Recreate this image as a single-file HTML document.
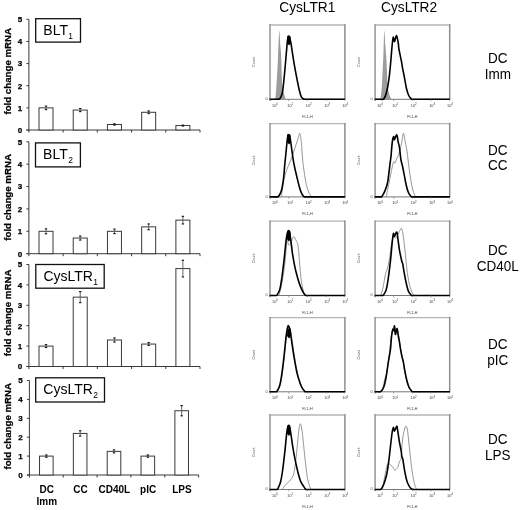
<!DOCTYPE html>
<html><head><meta charset="utf-8"><title>Figure</title>
<style>
html,body{margin:0;padding:0;background:#fff;}
body{width:520px;height:510px;overflow:hidden;}
svg{display:block;font-family:"Liberation Sans", sans-serif;will-change:transform;}
</style></head>
<body>
<svg width="520" height="510" viewBox="0 0 520 510" font-family='"Liberation Sans", sans-serif' fill="#000">
<rect width="520" height="510" fill="#fff"/>
<line x1="28.9" y1="19.3" x2="28.9" y2="132.5" stroke="#3a3a3a" stroke-width="1"/>
<line x1="26.4" y1="130.00" x2="28.9" y2="130.00" stroke="#3a3a3a" stroke-width="1"/>
<text x="22.099999999999998" y="132.85" font-size="8" font-weight="bold" stroke="#000" stroke-width="0.25" text-anchor="end">0</text>
<line x1="26.4" y1="107.86" x2="28.9" y2="107.86" stroke="#3a3a3a" stroke-width="1"/>
<text x="22.099999999999998" y="110.71" font-size="8" font-weight="bold" stroke="#000" stroke-width="0.25" text-anchor="end">1</text>
<line x1="26.4" y1="85.72" x2="28.9" y2="85.72" stroke="#3a3a3a" stroke-width="1"/>
<text x="22.099999999999998" y="88.57" font-size="8" font-weight="bold" stroke="#000" stroke-width="0.25" text-anchor="end">2</text>
<line x1="26.4" y1="63.58" x2="28.9" y2="63.58" stroke="#3a3a3a" stroke-width="1"/>
<text x="22.099999999999998" y="66.43" font-size="8" font-weight="bold" stroke="#000" stroke-width="0.25" text-anchor="end">3</text>
<line x1="26.4" y1="41.44" x2="28.9" y2="41.44" stroke="#3a3a3a" stroke-width="1"/>
<text x="22.099999999999998" y="44.29" font-size="8" font-weight="bold" stroke="#000" stroke-width="0.25" text-anchor="end">4</text>
<line x1="26.4" y1="19.30" x2="28.9" y2="19.30" stroke="#3a3a3a" stroke-width="1"/>
<text x="22.099999999999998" y="22.15" font-size="8" font-weight="bold" stroke="#000" stroke-width="0.25" text-anchor="end">5</text>
<line x1="26.4" y1="130.0" x2="200.0" y2="130.0" stroke="#3a3a3a" stroke-width="1"/>
<line x1="63.12" y1="130.0" x2="63.12" y2="132.5" stroke="#3a3a3a" stroke-width="1"/>
<line x1="97.34" y1="130.0" x2="97.34" y2="132.5" stroke="#3a3a3a" stroke-width="1"/>
<line x1="131.56" y1="130.0" x2="131.56" y2="132.5" stroke="#3a3a3a" stroke-width="1"/>
<line x1="165.78" y1="130.0" x2="165.78" y2="132.5" stroke="#3a3a3a" stroke-width="1"/>
<line x1="200.00" y1="130.0" x2="200.00" y2="132.5" stroke="#3a3a3a" stroke-width="1"/>
<rect x="39.01" y="107.86" width="14.0" height="22.14" fill="#fff" stroke="#3a3a3a" stroke-width="1"/>
<line x1="46.01" y1="106.09" x2="46.01" y2="109.63" stroke="#555" stroke-width="0.9"/>
<line x1="44.81" y1="106.09" x2="47.21" y2="106.09" stroke="#111" stroke-width="1.1"/>
<line x1="44.81" y1="109.63" x2="47.21" y2="109.63" stroke="#111" stroke-width="1.1"/>
<rect x="73.23" y="110.07" width="14.0" height="19.93" fill="#fff" stroke="#3a3a3a" stroke-width="1"/>
<line x1="80.23" y1="108.52" x2="80.23" y2="111.62" stroke="#555" stroke-width="0.9"/>
<line x1="79.03" y1="108.52" x2="81.43" y2="108.52" stroke="#111" stroke-width="1.1"/>
<line x1="79.03" y1="111.62" x2="81.43" y2="111.62" stroke="#111" stroke-width="1.1"/>
<rect x="107.45" y="124.47" width="14.0" height="5.53" fill="#fff" stroke="#3a3a3a" stroke-width="1"/>
<line x1="114.45" y1="123.80" x2="114.45" y2="125.13" stroke="#555" stroke-width="0.9"/>
<line x1="113.25" y1="123.80" x2="115.65" y2="123.80" stroke="#111" stroke-width="1.1"/>
<line x1="113.25" y1="125.13" x2="115.65" y2="125.13" stroke="#111" stroke-width="1.1"/>
<rect x="141.67" y="112.29" width="14.0" height="17.71" fill="#fff" stroke="#3a3a3a" stroke-width="1"/>
<line x1="148.67" y1="110.96" x2="148.67" y2="113.62" stroke="#555" stroke-width="0.9"/>
<line x1="147.47" y1="110.96" x2="149.87" y2="110.96" stroke="#111" stroke-width="1.1"/>
<line x1="147.47" y1="113.62" x2="149.87" y2="113.62" stroke="#111" stroke-width="1.1"/>
<rect x="175.89" y="125.57" width="14.0" height="4.43" fill="#fff" stroke="#3a3a3a" stroke-width="1"/>
<line x1="182.89" y1="125.13" x2="182.89" y2="126.01" stroke="#555" stroke-width="0.9"/>
<line x1="181.69" y1="125.13" x2="184.09" y2="125.13" stroke="#111" stroke-width="1.1"/>
<line x1="181.69" y1="126.01" x2="184.09" y2="126.01" stroke="#111" stroke-width="1.1"/>
<rect x="35.7" y="18.7" width="44.80" height="23.40" fill="#fff" stroke="#111" stroke-width="1.3"/>
<text x="43.30" y="35.00" font-size="14">BLT<tspan font-size="8.5" dy="4.1" dx="0.4">1</tspan></text>
<text transform="translate(10.9,71.25) rotate(-90)" font-size="9.7" font-weight="bold" stroke="#000" stroke-width="0.25" text-anchor="middle">fold change mRNA</text>
<line x1="28.9" y1="141.8" x2="28.9" y2="256.2" stroke="#3a3a3a" stroke-width="1"/>
<line x1="26.4" y1="253.70" x2="28.9" y2="253.70" stroke="#3a3a3a" stroke-width="1"/>
<text x="22.099999999999998" y="256.55" font-size="8" font-weight="bold" stroke="#000" stroke-width="0.25" text-anchor="end">0</text>
<line x1="26.4" y1="231.32" x2="28.9" y2="231.32" stroke="#3a3a3a" stroke-width="1"/>
<text x="22.099999999999998" y="234.17" font-size="8" font-weight="bold" stroke="#000" stroke-width="0.25" text-anchor="end">1</text>
<line x1="26.4" y1="208.94" x2="28.9" y2="208.94" stroke="#3a3a3a" stroke-width="1"/>
<text x="22.099999999999998" y="211.79" font-size="8" font-weight="bold" stroke="#000" stroke-width="0.25" text-anchor="end">2</text>
<line x1="26.4" y1="186.56" x2="28.9" y2="186.56" stroke="#3a3a3a" stroke-width="1"/>
<text x="22.099999999999998" y="189.41" font-size="8" font-weight="bold" stroke="#000" stroke-width="0.25" text-anchor="end">3</text>
<line x1="26.4" y1="164.18" x2="28.9" y2="164.18" stroke="#3a3a3a" stroke-width="1"/>
<text x="22.099999999999998" y="167.03" font-size="8" font-weight="bold" stroke="#000" stroke-width="0.25" text-anchor="end">4</text>
<line x1="26.4" y1="141.80" x2="28.9" y2="141.80" stroke="#3a3a3a" stroke-width="1"/>
<text x="22.099999999999998" y="144.65" font-size="8" font-weight="bold" stroke="#000" stroke-width="0.25" text-anchor="end">5</text>
<line x1="26.4" y1="253.7" x2="200.0" y2="253.7" stroke="#3a3a3a" stroke-width="1"/>
<line x1="63.12" y1="253.7" x2="63.12" y2="256.2" stroke="#3a3a3a" stroke-width="1"/>
<line x1="97.34" y1="253.7" x2="97.34" y2="256.2" stroke="#3a3a3a" stroke-width="1"/>
<line x1="131.56" y1="253.7" x2="131.56" y2="256.2" stroke="#3a3a3a" stroke-width="1"/>
<line x1="165.78" y1="253.7" x2="165.78" y2="256.2" stroke="#3a3a3a" stroke-width="1"/>
<line x1="200.00" y1="253.7" x2="200.00" y2="256.2" stroke="#3a3a3a" stroke-width="1"/>
<rect x="39.01" y="231.32" width="14.0" height="22.38" fill="#fff" stroke="#3a3a3a" stroke-width="1"/>
<line x1="46.01" y1="228.86" x2="46.01" y2="233.78" stroke="#555" stroke-width="0.9"/>
<line x1="44.81" y1="228.86" x2="47.21" y2="228.86" stroke="#111" stroke-width="1.1"/>
<line x1="44.81" y1="233.78" x2="47.21" y2="233.78" stroke="#111" stroke-width="1.1"/>
<rect x="73.23" y="238.03" width="14.0" height="15.67" fill="#fff" stroke="#3a3a3a" stroke-width="1"/>
<line x1="80.23" y1="236.02" x2="80.23" y2="240.05" stroke="#555" stroke-width="0.9"/>
<line x1="79.03" y1="236.02" x2="81.43" y2="236.02" stroke="#111" stroke-width="1.1"/>
<line x1="79.03" y1="240.05" x2="81.43" y2="240.05" stroke="#111" stroke-width="1.1"/>
<rect x="107.45" y="231.32" width="14.0" height="22.38" fill="#fff" stroke="#3a3a3a" stroke-width="1"/>
<line x1="114.45" y1="229.08" x2="114.45" y2="233.56" stroke="#555" stroke-width="0.9"/>
<line x1="113.25" y1="229.08" x2="115.65" y2="229.08" stroke="#111" stroke-width="1.1"/>
<line x1="113.25" y1="233.56" x2="115.65" y2="233.56" stroke="#111" stroke-width="1.1"/>
<rect x="141.67" y="226.84" width="14.0" height="26.86" fill="#fff" stroke="#3a3a3a" stroke-width="1"/>
<line x1="148.67" y1="223.93" x2="148.67" y2="229.75" stroke="#555" stroke-width="0.9"/>
<line x1="147.47" y1="223.93" x2="149.87" y2="223.93" stroke="#111" stroke-width="1.1"/>
<line x1="147.47" y1="229.75" x2="149.87" y2="229.75" stroke="#111" stroke-width="1.1"/>
<rect x="175.89" y="220.13" width="14.0" height="33.57" fill="#fff" stroke="#3a3a3a" stroke-width="1"/>
<line x1="182.89" y1="216.33" x2="182.89" y2="223.93" stroke="#555" stroke-width="0.9"/>
<line x1="181.69" y1="216.33" x2="184.09" y2="216.33" stroke="#111" stroke-width="1.1"/>
<line x1="181.69" y1="223.93" x2="184.09" y2="223.93" stroke="#111" stroke-width="1.1"/>
<rect x="35.5" y="142.9" width="44.90" height="24.00" fill="#fff" stroke="#111" stroke-width="1.3"/>
<text x="43.10" y="159.20" font-size="14">BLT<tspan font-size="8.5" dy="4.1" dx="0.4">2</tspan></text>
<text transform="translate(10.9,197.40) rotate(-90)" font-size="9.7" font-weight="bold" stroke="#000" stroke-width="0.25" text-anchor="middle">fold change mRNA</text>
<line x1="28.9" y1="264.5" x2="28.9" y2="369.0" stroke="#3a3a3a" stroke-width="1"/>
<line x1="26.4" y1="366.50" x2="28.9" y2="366.50" stroke="#3a3a3a" stroke-width="1"/>
<text x="22.099999999999998" y="369.35" font-size="8" font-weight="bold" stroke="#000" stroke-width="0.25" text-anchor="end">0</text>
<line x1="26.4" y1="346.10" x2="28.9" y2="346.10" stroke="#3a3a3a" stroke-width="1"/>
<text x="22.099999999999998" y="348.95" font-size="8" font-weight="bold" stroke="#000" stroke-width="0.25" text-anchor="end">1</text>
<line x1="26.4" y1="325.70" x2="28.9" y2="325.70" stroke="#3a3a3a" stroke-width="1"/>
<text x="22.099999999999998" y="328.55" font-size="8" font-weight="bold" stroke="#000" stroke-width="0.25" text-anchor="end">2</text>
<line x1="26.4" y1="305.30" x2="28.9" y2="305.30" stroke="#3a3a3a" stroke-width="1"/>
<text x="22.099999999999998" y="308.15" font-size="8" font-weight="bold" stroke="#000" stroke-width="0.25" text-anchor="end">3</text>
<line x1="26.4" y1="284.90" x2="28.9" y2="284.90" stroke="#3a3a3a" stroke-width="1"/>
<text x="22.099999999999998" y="287.75" font-size="8" font-weight="bold" stroke="#000" stroke-width="0.25" text-anchor="end">4</text>
<line x1="26.4" y1="264.50" x2="28.9" y2="264.50" stroke="#3a3a3a" stroke-width="1"/>
<text x="22.099999999999998" y="267.35" font-size="8" font-weight="bold" stroke="#000" stroke-width="0.25" text-anchor="end">5</text>
<line x1="26.4" y1="366.5" x2="200.0" y2="366.5" stroke="#3a3a3a" stroke-width="1"/>
<line x1="63.12" y1="366.5" x2="63.12" y2="369.0" stroke="#3a3a3a" stroke-width="1"/>
<line x1="97.34" y1="366.5" x2="97.34" y2="369.0" stroke="#3a3a3a" stroke-width="1"/>
<line x1="131.56" y1="366.5" x2="131.56" y2="369.0" stroke="#3a3a3a" stroke-width="1"/>
<line x1="165.78" y1="366.5" x2="165.78" y2="369.0" stroke="#3a3a3a" stroke-width="1"/>
<line x1="200.00" y1="366.5" x2="200.00" y2="369.0" stroke="#3a3a3a" stroke-width="1"/>
<rect x="39.01" y="346.10" width="14.0" height="20.40" fill="#fff" stroke="#3a3a3a" stroke-width="1"/>
<line x1="46.01" y1="344.67" x2="46.01" y2="347.53" stroke="#555" stroke-width="0.9"/>
<line x1="44.81" y1="344.67" x2="47.21" y2="344.67" stroke="#111" stroke-width="1.1"/>
<line x1="44.81" y1="347.53" x2="47.21" y2="347.53" stroke="#111" stroke-width="1.1"/>
<rect x="73.23" y="297.14" width="14.0" height="69.36" fill="#fff" stroke="#3a3a3a" stroke-width="1"/>
<line x1="80.23" y1="291.63" x2="80.23" y2="302.65" stroke="#555" stroke-width="0.9"/>
<line x1="79.03" y1="291.63" x2="81.43" y2="291.63" stroke="#111" stroke-width="1.1"/>
<line x1="79.03" y1="302.65" x2="81.43" y2="302.65" stroke="#111" stroke-width="1.1"/>
<rect x="107.45" y="339.98" width="14.0" height="26.52" fill="#fff" stroke="#3a3a3a" stroke-width="1"/>
<line x1="114.45" y1="337.94" x2="114.45" y2="342.02" stroke="#555" stroke-width="0.9"/>
<line x1="113.25" y1="337.94" x2="115.65" y2="337.94" stroke="#111" stroke-width="1.1"/>
<line x1="113.25" y1="342.02" x2="115.65" y2="342.02" stroke="#111" stroke-width="1.1"/>
<rect x="141.67" y="344.06" width="14.0" height="22.44" fill="#fff" stroke="#3a3a3a" stroke-width="1"/>
<line x1="148.67" y1="342.63" x2="148.67" y2="345.49" stroke="#555" stroke-width="0.9"/>
<line x1="147.47" y1="342.63" x2="149.87" y2="342.63" stroke="#111" stroke-width="1.1"/>
<line x1="147.47" y1="345.49" x2="149.87" y2="345.49" stroke="#111" stroke-width="1.1"/>
<rect x="175.89" y="268.58" width="14.0" height="97.92" fill="#fff" stroke="#3a3a3a" stroke-width="1"/>
<line x1="182.89" y1="260.22" x2="182.89" y2="276.94" stroke="#555" stroke-width="0.9"/>
<line x1="181.69" y1="260.22" x2="184.09" y2="260.22" stroke="#111" stroke-width="1.1"/>
<line x1="181.69" y1="276.94" x2="184.09" y2="276.94" stroke="#111" stroke-width="1.1"/>
<rect x="35.8" y="264.5" width="68.40" height="23.70" fill="#fff" stroke="#111" stroke-width="1.3"/>
<text x="43.40" y="280.80" font-size="14">CysLTR<tspan font-size="8.5" dy="4.1" dx="0.4">1</tspan></text>
<text transform="translate(10.9,312.90) rotate(-90)" font-size="9.7" font-weight="bold" stroke="#000" stroke-width="0.25" text-anchor="middle">fold change mRNA</text>
<line x1="29.4" y1="380.5" x2="29.4" y2="477.5" stroke="#3a3a3a" stroke-width="1"/>
<line x1="26.9" y1="475.00" x2="29.4" y2="475.00" stroke="#3a3a3a" stroke-width="1"/>
<text x="22.599999999999998" y="477.85" font-size="8" font-weight="bold" stroke="#000" stroke-width="0.25" text-anchor="end">0</text>
<line x1="26.9" y1="456.10" x2="29.4" y2="456.10" stroke="#3a3a3a" stroke-width="1"/>
<text x="22.599999999999998" y="458.95" font-size="8" font-weight="bold" stroke="#000" stroke-width="0.25" text-anchor="end">1</text>
<line x1="26.9" y1="437.20" x2="29.4" y2="437.20" stroke="#3a3a3a" stroke-width="1"/>
<text x="22.599999999999998" y="440.05" font-size="8" font-weight="bold" stroke="#000" stroke-width="0.25" text-anchor="end">2</text>
<line x1="26.9" y1="418.30" x2="29.4" y2="418.30" stroke="#3a3a3a" stroke-width="1"/>
<text x="22.599999999999998" y="421.15" font-size="8" font-weight="bold" stroke="#000" stroke-width="0.25" text-anchor="end">3</text>
<line x1="26.9" y1="399.40" x2="29.4" y2="399.40" stroke="#3a3a3a" stroke-width="1"/>
<text x="22.599999999999998" y="402.25" font-size="8" font-weight="bold" stroke="#000" stroke-width="0.25" text-anchor="end">4</text>
<line x1="26.9" y1="380.50" x2="29.4" y2="380.50" stroke="#3a3a3a" stroke-width="1"/>
<text x="22.599999999999998" y="383.35" font-size="8" font-weight="bold" stroke="#000" stroke-width="0.25" text-anchor="end">5</text>
<line x1="26.9" y1="475.0" x2="198.6" y2="475.0" stroke="#3a3a3a" stroke-width="1"/>
<line x1="63.24" y1="475.0" x2="63.24" y2="477.5" stroke="#3a3a3a" stroke-width="1"/>
<line x1="97.08" y1="475.0" x2="97.08" y2="477.5" stroke="#3a3a3a" stroke-width="1"/>
<line x1="130.92" y1="475.0" x2="130.92" y2="477.5" stroke="#3a3a3a" stroke-width="1"/>
<line x1="164.76" y1="475.0" x2="164.76" y2="477.5" stroke="#3a3a3a" stroke-width="1"/>
<line x1="198.60" y1="475.0" x2="198.60" y2="477.5" stroke="#3a3a3a" stroke-width="1"/>
<rect x="39.52" y="456.10" width="13.6" height="18.90" fill="#fff" stroke="#3a3a3a" stroke-width="1"/>
<line x1="46.32" y1="454.97" x2="46.32" y2="457.23" stroke="#555" stroke-width="0.9"/>
<line x1="45.12" y1="454.97" x2="47.52" y2="454.97" stroke="#111" stroke-width="1.1"/>
<line x1="45.12" y1="457.23" x2="47.52" y2="457.23" stroke="#111" stroke-width="1.1"/>
<rect x="73.36" y="433.42" width="13.6" height="41.58" fill="#fff" stroke="#3a3a3a" stroke-width="1"/>
<line x1="80.16" y1="430.77" x2="80.16" y2="436.07" stroke="#555" stroke-width="0.9"/>
<line x1="78.96" y1="430.77" x2="81.36" y2="430.77" stroke="#111" stroke-width="1.1"/>
<line x1="78.96" y1="436.07" x2="81.36" y2="436.07" stroke="#111" stroke-width="1.1"/>
<rect x="107.20" y="451.38" width="13.6" height="23.62" fill="#fff" stroke="#3a3a3a" stroke-width="1"/>
<line x1="114.00" y1="449.86" x2="114.00" y2="452.89" stroke="#555" stroke-width="0.9"/>
<line x1="112.80" y1="449.86" x2="115.20" y2="449.86" stroke="#111" stroke-width="1.1"/>
<line x1="112.80" y1="452.89" x2="115.20" y2="452.89" stroke="#111" stroke-width="1.1"/>
<rect x="141.04" y="456.10" width="13.6" height="18.90" fill="#fff" stroke="#3a3a3a" stroke-width="1"/>
<line x1="147.84" y1="454.97" x2="147.84" y2="457.23" stroke="#555" stroke-width="0.9"/>
<line x1="146.64" y1="454.97" x2="149.04" y2="454.97" stroke="#111" stroke-width="1.1"/>
<line x1="146.64" y1="457.23" x2="149.04" y2="457.23" stroke="#111" stroke-width="1.1"/>
<rect x="174.88" y="410.74" width="13.6" height="64.26" fill="#fff" stroke="#3a3a3a" stroke-width="1"/>
<line x1="181.68" y1="405.64" x2="181.68" y2="415.84" stroke="#555" stroke-width="0.9"/>
<line x1="180.48" y1="405.64" x2="182.88" y2="405.64" stroke="#111" stroke-width="1.1"/>
<line x1="180.48" y1="415.84" x2="182.88" y2="415.84" stroke="#111" stroke-width="1.1"/>
<rect x="35.7" y="377.8" width="68.80" height="24.20" fill="#fff" stroke="#111" stroke-width="1.3"/>
<text x="43.30" y="394.10" font-size="14">CysLTR<tspan font-size="8.5" dy="4.1" dx="0.4">2</tspan></text>
<text transform="translate(10.9,426.25) rotate(-90)" font-size="9.7" font-weight="bold" stroke="#000" stroke-width="0.25" text-anchor="middle">fold change mRNA</text>
<text x="46.75" y="492.6" font-size="10" font-weight="bold" text-anchor="middle">DC</text>
<text x="80.55" y="492.6" font-size="10" font-weight="bold" text-anchor="middle">CC</text>
<text x="114.4" y="492.6" font-size="10" font-weight="bold" text-anchor="middle">CD40L</text>
<text x="148.1" y="492.6" font-size="10" font-weight="bold" text-anchor="middle">pIC</text>
<text x="182.0" y="492.6" font-size="10" font-weight="bold" text-anchor="middle">LPS</text>
<text x="46.8" y="504.6" font-size="10" font-weight="bold" text-anchor="middle">Imm</text>
<line x1="270.0" y1="99.3" x2="344.9" y2="99.3" stroke="#777" stroke-width="1"/>
<path d="M275.00,99.30 C275.18,97.88 275.62,97.31 276.10,90.76 C276.58,84.21 277.38,69.96 277.90,60.00 C278.42,50.04 278.85,33.50 279.25,31.00 C279.65,28.50 279.98,40.83 280.30,45.00 C280.62,49.17 280.88,49.33 281.20,56.00 C281.52,62.67 281.70,78.65 282.20,85.00 C282.70,91.35 283.62,91.73 284.20,94.11 C284.78,96.50 285.45,98.44 285.70,99.30 Z" fill="#9c9c9c" stroke="none"/>
<line x1="269.3" y1="25.0" x2="345.59999999999997" y2="25.0" stroke="#b4b4b4" stroke-width="1.4"/>
<line x1="270.0" y1="24.3" x2="270.0" y2="100.8" stroke="#959595" stroke-width="1.5"/>
<line x1="344.9" y1="24.3" x2="344.9" y2="99.3" stroke="#8e8e8e" stroke-width="1.5"/>
<path d="M269.5,99.3 L276.00,99.30 C276.62,99.22 278.83,99.32 279.70,98.79 C280.57,98.27 280.70,97.49 281.20,96.15 C281.70,94.81 282.08,95.15 282.70,90.76 C283.32,86.37 284.15,77.78 284.90,69.80 C285.65,61.82 286.65,48.37 287.20,42.90 C287.75,37.43 287.92,38.12 288.20,37.00 C288.48,35.88 288.67,36.03 288.90,36.20 C289.13,36.37 289.27,36.88 289.60,38.00 C289.93,39.12 290.18,38.85 290.90,42.90 C291.62,46.95 292.90,56.33 293.90,62.30 C294.90,68.27 296.03,74.21 296.90,78.70 C297.77,83.19 298.37,86.23 299.10,89.23 C299.83,92.24 300.43,95.08 301.30,96.76 C302.17,98.44 303.80,98.88 304.30,99.30 L345.2,99.3" fill="none" stroke="#000" stroke-width="1.6" stroke-linejoin="round"/>
<polygon points="286.90,43.00 287.30,36.50 288.00,35.30 288.80,37.10 289.70,35.50 290.60,36.80 290.90,43.00 289.10,45.50" fill="#000"/>
<line x1="270.00" y1="99.3" x2="270.00" y2="101.1" stroke="#777" stroke-width="0.6"/>
<text x="275.00" y="106.60" font-size="3.8" fill="#3a3a3a" text-anchor="middle">10<tspan font-size="2.8" dy="-1.6">0</tspan></text>
<line x1="288.73" y1="99.3" x2="288.73" y2="101.1" stroke="#777" stroke-width="0.6"/>
<text x="290.23" y="106.60" font-size="3.8" fill="#3a3a3a" text-anchor="middle">10<tspan font-size="2.8" dy="-1.6">1</tspan></text>
<line x1="307.45" y1="99.3" x2="307.45" y2="101.1" stroke="#777" stroke-width="0.6"/>
<text x="308.75" y="106.60" font-size="3.8" fill="#3a3a3a" text-anchor="middle">10<tspan font-size="2.8" dy="-1.6">2</tspan></text>
<line x1="326.17" y1="99.3" x2="326.17" y2="101.1" stroke="#777" stroke-width="0.6"/>
<text x="327.17" y="106.60" font-size="3.8" fill="#3a3a3a" text-anchor="middle">10<tspan font-size="2.8" dy="-1.6">3</tspan></text>
<line x1="344.90" y1="99.3" x2="344.90" y2="101.1" stroke="#777" stroke-width="0.6"/>
<text x="345.20" y="106.60" font-size="3.8" fill="#3a3a3a" text-anchor="middle">10<tspan font-size="2.8" dy="-1.6">4</tspan></text>
<text x="307.45" y="117.60" font-size="3.7" fill="#3a3a3a" text-anchor="middle">FL1-H</text>
<text x="266.50" y="100.10" font-size="3.8" fill="#444" text-anchor="middle">0</text>
<text transform="translate(254.80,62.15) rotate(-90)" font-size="3.6" fill="#444" text-anchor="middle">Count</text>
<line x1="375.1" y1="99.3" x2="449.7" y2="99.3" stroke="#777" stroke-width="1"/>
<path d="M380.60,99.30 C380.82,96.92 381.43,92.38 381.90,85.00 C382.37,77.62 383.01,64.00 383.40,55.00 C383.79,46.00 383.93,32.67 384.25,31.00 C384.57,29.33 384.98,40.83 385.30,45.00 C385.62,49.17 385.80,49.33 386.20,56.00 C386.60,62.67 387.20,78.65 387.70,85.00 C388.20,91.35 388.58,91.73 389.20,94.11 C389.82,96.50 391.03,98.44 391.40,99.30 Z" fill="#9c9c9c" stroke="none"/>
<line x1="374.40000000000003" y1="25.0" x2="450.4" y2="25.0" stroke="#b4b4b4" stroke-width="1.4"/>
<line x1="375.1" y1="24.3" x2="375.1" y2="100.8" stroke="#959595" stroke-width="1.5"/>
<line x1="449.7" y1="24.3" x2="449.7" y2="99.3" stroke="#8e8e8e" stroke-width="1.5"/>
<path d="M374.6,99.3 L381.00,99.30 C381.50,99.22 383.02,100.21 384.00,98.79 C384.98,97.37 386.03,94.36 386.90,90.76 C387.77,87.16 388.57,81.94 389.20,77.20 C389.83,72.46 390.27,67.00 390.70,62.30 C391.13,57.60 391.52,52.22 391.80,49.00 C392.08,45.78 392.15,44.97 392.40,43.00 C392.65,41.03 392.93,37.43 393.30,37.20 C393.67,36.97 394.05,41.87 394.60,41.60 C395.15,41.33 395.98,35.28 396.60,35.60 C397.22,35.92 397.92,41.27 398.30,43.50 C398.68,45.73 398.55,46.87 398.90,49.00 C399.25,51.13 399.90,53.83 400.40,56.30 C400.90,58.77 401.53,61.80 401.90,63.80 C402.27,65.80 402.23,66.32 402.60,68.30 C402.97,70.28 403.48,72.47 404.10,75.70 C404.72,78.94 405.55,84.45 406.30,87.71 C407.05,90.97 407.72,93.30 408.60,95.23 C409.48,97.16 411.10,98.62 411.60,99.30 L450.0,99.3" fill="none" stroke="#000" stroke-width="1.6" stroke-linejoin="round"/>
<line x1="375.10" y1="99.3" x2="375.10" y2="101.1" stroke="#777" stroke-width="0.6"/>
<text x="380.10" y="106.60" font-size="3.8" fill="#3a3a3a" text-anchor="middle">10<tspan font-size="2.8" dy="-1.6">0</tspan></text>
<line x1="393.75" y1="99.3" x2="393.75" y2="101.1" stroke="#777" stroke-width="0.6"/>
<text x="395.25" y="106.60" font-size="3.8" fill="#3a3a3a" text-anchor="middle">10<tspan font-size="2.8" dy="-1.6">1</tspan></text>
<line x1="412.40" y1="99.3" x2="412.40" y2="101.1" stroke="#777" stroke-width="0.6"/>
<text x="413.70" y="106.60" font-size="3.8" fill="#3a3a3a" text-anchor="middle">10<tspan font-size="2.8" dy="-1.6">2</tspan></text>
<line x1="431.05" y1="99.3" x2="431.05" y2="101.1" stroke="#777" stroke-width="0.6"/>
<text x="432.05" y="106.60" font-size="3.8" fill="#3a3a3a" text-anchor="middle">10<tspan font-size="2.8" dy="-1.6">3</tspan></text>
<line x1="449.70" y1="99.3" x2="449.70" y2="101.1" stroke="#777" stroke-width="0.6"/>
<text x="450.00" y="106.60" font-size="3.8" fill="#3a3a3a" text-anchor="middle">10<tspan font-size="2.8" dy="-1.6">4</tspan></text>
<text x="412.40" y="117.60" font-size="3.7" fill="#3a3a3a" text-anchor="middle">FL1-H</text>
<text x="371.60" y="100.10" font-size="3.8" fill="#444" text-anchor="middle">0</text>
<text transform="translate(359.90,62.15) rotate(-90)" font-size="3.6" fill="#444" text-anchor="middle">Count</text>
<line x1="270.0" y1="196.9" x2="344.9" y2="196.9" stroke="#777" stroke-width="1"/>
<path d="M281.20,196.90 C281.43,195.49 282.12,191.32 282.60,188.42 C283.08,185.52 283.47,182.47 284.10,179.50 C284.73,176.53 285.28,173.82 286.40,170.60 C287.52,167.38 289.32,164.17 290.80,160.20 C292.28,156.23 294.05,150.52 295.30,146.80 C296.55,143.08 297.55,140.13 298.30,137.90 C299.05,135.67 299.30,132.67 299.80,133.40 C300.30,134.13 300.82,137.83 301.30,142.30 C301.78,146.77 302.22,155.23 302.70,160.20 C303.18,165.17 303.57,167.88 304.20,172.10 C304.83,176.32 305.63,181.93 306.50,185.49 C307.37,189.06 308.53,191.59 309.40,193.49 C310.27,195.39 311.32,196.33 311.70,196.90" fill="none" stroke="#8a8a8a" stroke-width="0.9"/>
<line x1="269.3" y1="123.6" x2="345.59999999999997" y2="123.6" stroke="#b4b4b4" stroke-width="1.4"/>
<line x1="270.0" y1="122.89999999999999" x2="270.0" y2="198.4" stroke="#959595" stroke-width="1.5"/>
<line x1="344.9" y1="122.89999999999999" x2="344.9" y2="196.9" stroke="#8e8e8e" stroke-width="1.5"/>
<path d="M269.5,196.9 L278.20,196.90 C278.70,195.97 280.33,194.24 281.20,191.34 C282.07,188.44 282.78,184.19 283.40,179.50 C284.02,174.81 284.40,168.40 284.90,163.20 C285.40,158.00 285.95,152.60 286.40,148.30 C286.85,144.00 287.23,139.63 287.60,137.40 C287.97,135.17 288.18,134.82 288.60,134.90 C289.02,134.98 289.60,135.67 290.10,137.90 C290.60,140.13 290.98,144.08 291.60,148.30 C292.22,152.52 292.93,158.48 293.80,163.20 C294.67,167.92 295.80,172.40 296.80,176.60 C297.80,180.80 298.93,185.49 299.80,188.42 C300.67,191.35 301.27,192.76 302.00,194.17 C302.73,195.58 303.83,196.44 304.20,196.90 L345.2,196.9" fill="none" stroke="#000" stroke-width="1.6" stroke-linejoin="round"/>
<polygon points="286.90,142.00 287.30,134.80 288.00,133.60 288.80,135.40 289.70,133.80 290.60,135.10 290.90,142.00 289.10,144.50" fill="#000"/>
<line x1="270.00" y1="196.9" x2="270.00" y2="198.70000000000002" stroke="#777" stroke-width="0.6"/>
<text x="275.00" y="204.20" font-size="3.8" fill="#3a3a3a" text-anchor="middle">10<tspan font-size="2.8" dy="-1.6">0</tspan></text>
<line x1="288.73" y1="196.9" x2="288.73" y2="198.70000000000002" stroke="#777" stroke-width="0.6"/>
<text x="290.23" y="204.20" font-size="3.8" fill="#3a3a3a" text-anchor="middle">10<tspan font-size="2.8" dy="-1.6">1</tspan></text>
<line x1="307.45" y1="196.9" x2="307.45" y2="198.70000000000002" stroke="#777" stroke-width="0.6"/>
<text x="308.75" y="204.20" font-size="3.8" fill="#3a3a3a" text-anchor="middle">10<tspan font-size="2.8" dy="-1.6">2</tspan></text>
<line x1="326.17" y1="196.9" x2="326.17" y2="198.70000000000002" stroke="#777" stroke-width="0.6"/>
<text x="327.17" y="204.20" font-size="3.8" fill="#3a3a3a" text-anchor="middle">10<tspan font-size="2.8" dy="-1.6">3</tspan></text>
<line x1="344.90" y1="196.9" x2="344.90" y2="198.70000000000002" stroke="#777" stroke-width="0.6"/>
<text x="345.20" y="204.20" font-size="3.8" fill="#3a3a3a" text-anchor="middle">10<tspan font-size="2.8" dy="-1.6">4</tspan></text>
<text x="307.45" y="215.20" font-size="3.7" fill="#3a3a3a" text-anchor="middle">FL1-H</text>
<text x="266.50" y="197.70" font-size="3.8" fill="#444" text-anchor="middle">0</text>
<text transform="translate(254.80,160.25) rotate(-90)" font-size="3.6" fill="#444" text-anchor="middle">Count</text>
<line x1="375.1" y1="196.9" x2="449.7" y2="196.9" stroke="#777" stroke-width="1"/>
<path d="M386.20,196.90 C386.68,194.50 388.12,187.38 389.10,182.50 C390.08,177.62 391.35,171.07 392.10,167.60 C392.85,164.13 393.10,162.43 393.60,161.70 C394.10,160.97 394.60,163.70 395.10,163.20 C395.60,162.70 395.98,160.18 396.60,158.70 C397.22,157.22 398.18,156.03 398.80,154.30 C399.42,152.57 399.85,150.05 400.30,148.30 C400.75,146.55 401.00,146.28 401.50,143.80 C402.00,141.32 402.75,134.13 403.30,133.40 C403.85,132.67 404.18,136.42 404.80,139.40 C405.42,142.38 406.27,146.35 407.00,151.30 C407.73,156.25 408.45,163.65 409.20,169.10 C409.95,174.55 410.75,180.07 411.50,184.00 C412.25,187.93 412.97,190.56 413.70,192.71 C414.43,194.86 415.53,196.20 415.90,196.90" fill="none" stroke="#8a8a8a" stroke-width="0.9"/>
<line x1="374.40000000000003" y1="123.6" x2="450.4" y2="123.6" stroke="#b4b4b4" stroke-width="1.4"/>
<line x1="375.1" y1="122.89999999999999" x2="375.1" y2="198.4" stroke="#959595" stroke-width="1.5"/>
<line x1="449.7" y1="122.89999999999999" x2="449.7" y2="196.9" stroke="#8e8e8e" stroke-width="1.5"/>
<path d="M374.6,196.9 L381.70,196.90 C382.20,195.97 383.72,193.74 384.70,191.34 C385.68,188.94 386.73,186.94 387.60,182.50 C388.47,178.06 389.32,169.23 389.90,164.70 C390.48,160.17 390.80,158.10 391.10,155.30 C391.40,152.50 391.47,150.37 391.70,147.90 C391.93,145.43 392.17,142.40 392.50,140.50 C392.83,138.60 393.37,136.63 393.70,136.50 C394.03,136.37 393.98,139.98 394.50,139.70 C395.02,139.42 396.18,134.38 396.80,134.80 C397.42,135.22 397.77,140.20 398.20,142.20 C398.63,144.20 399.07,144.90 399.40,146.80 C399.73,148.70 399.93,151.37 400.20,153.60 C400.47,155.83 400.62,158.10 401.00,160.20 C401.38,162.30 402.00,163.97 402.50,166.20 C403.00,168.43 403.37,170.38 404.00,173.60 C404.63,176.82 405.55,182.31 406.30,185.49 C407.05,188.68 407.63,190.81 408.50,192.71 C409.37,194.61 411.00,196.20 411.50,196.90 L450.0,196.9" fill="none" stroke="#000" stroke-width="1.6" stroke-linejoin="round"/>
<line x1="375.10" y1="196.9" x2="375.10" y2="198.70000000000002" stroke="#777" stroke-width="0.6"/>
<text x="380.10" y="204.20" font-size="3.8" fill="#3a3a3a" text-anchor="middle">10<tspan font-size="2.8" dy="-1.6">0</tspan></text>
<line x1="393.75" y1="196.9" x2="393.75" y2="198.70000000000002" stroke="#777" stroke-width="0.6"/>
<text x="395.25" y="204.20" font-size="3.8" fill="#3a3a3a" text-anchor="middle">10<tspan font-size="2.8" dy="-1.6">1</tspan></text>
<line x1="412.40" y1="196.9" x2="412.40" y2="198.70000000000002" stroke="#777" stroke-width="0.6"/>
<text x="413.70" y="204.20" font-size="3.8" fill="#3a3a3a" text-anchor="middle">10<tspan font-size="2.8" dy="-1.6">2</tspan></text>
<line x1="431.05" y1="196.9" x2="431.05" y2="198.70000000000002" stroke="#777" stroke-width="0.6"/>
<text x="432.05" y="204.20" font-size="3.8" fill="#3a3a3a" text-anchor="middle">10<tspan font-size="2.8" dy="-1.6">3</tspan></text>
<line x1="449.70" y1="196.9" x2="449.70" y2="198.70000000000002" stroke="#777" stroke-width="0.6"/>
<text x="450.00" y="204.20" font-size="3.8" fill="#3a3a3a" text-anchor="middle">10<tspan font-size="2.8" dy="-1.6">4</tspan></text>
<text x="412.40" y="215.20" font-size="3.7" fill="#3a3a3a" text-anchor="middle">FL1-H</text>
<text x="371.60" y="197.70" font-size="3.8" fill="#444" text-anchor="middle">0</text>
<text transform="translate(359.90,160.25) rotate(-90)" font-size="3.6" fill="#444" text-anchor="middle">Count</text>
<line x1="270.0" y1="295.5" x2="344.9" y2="295.5" stroke="#777" stroke-width="1"/>
<path d="M278.90,295.50 C279.40,293.50 280.90,288.99 281.90,283.52 C282.90,278.05 284.03,269.90 284.90,262.70 C285.77,255.50 286.48,243.28 287.10,240.30 C287.72,237.32 287.98,244.30 288.60,244.80 C289.22,245.30 290.18,244.28 290.80,243.30 C291.42,242.32 291.80,240.02 292.30,238.90 C292.80,237.78 293.18,236.37 293.80,236.60 C294.42,236.83 295.38,239.18 296.00,240.30 C296.62,241.42 297.07,241.55 297.50,243.30 C297.93,245.05 298.22,247.08 298.60,250.80 C298.98,254.52 299.35,260.65 299.80,265.60 C300.25,270.55 300.68,276.21 301.30,280.50 C301.92,284.79 302.77,288.83 303.50,291.33 C304.23,293.83 305.33,294.81 305.70,295.50" fill="none" stroke="#8a8a8a" stroke-width="0.9"/>
<line x1="269.3" y1="221.1" x2="345.59999999999997" y2="221.1" stroke="#b4b4b4" stroke-width="1.4"/>
<line x1="270.0" y1="220.4" x2="270.0" y2="297.0" stroke="#959595" stroke-width="1.5"/>
<line x1="344.9" y1="220.4" x2="344.9" y2="295.5" stroke="#8e8e8e" stroke-width="1.5"/>
<path d="M269.5,295.5 L276.70,295.50 C277.20,294.55 278.83,292.77 279.70,289.77 C280.57,286.77 281.17,282.51 281.90,277.50 C282.63,272.49 283.40,265.90 284.10,259.70 C284.80,253.50 285.52,244.88 286.10,240.30 C286.68,235.72 287.07,233.68 287.60,232.20 C288.13,230.72 288.77,230.05 289.30,231.40 C289.83,232.75 290.30,236.82 290.80,240.30 C291.30,243.78 291.67,248.08 292.30,252.30 C292.93,256.52 293.73,261.40 294.60,265.60 C295.47,269.80 296.52,273.99 297.50,277.50 C298.48,281.01 299.50,284.10 300.50,286.65 C301.50,289.19 302.63,291.32 303.50,292.79 C304.37,294.27 305.33,295.05 305.70,295.50 L345.2,295.5" fill="none" stroke="#000" stroke-width="1.6" stroke-linejoin="round"/>
<polygon points="286.85,238.90 287.25,231.50 287.90,230.30 288.70,232.10 289.60,230.50 290.45,231.80 290.75,238.90 289.00,241.40" fill="#000"/>
<line x1="270.00" y1="295.5" x2="270.00" y2="297.3" stroke="#777" stroke-width="0.6"/>
<text x="275.00" y="302.80" font-size="3.8" fill="#3a3a3a" text-anchor="middle">10<tspan font-size="2.8" dy="-1.6">0</tspan></text>
<line x1="288.73" y1="295.5" x2="288.73" y2="297.3" stroke="#777" stroke-width="0.6"/>
<text x="290.23" y="302.80" font-size="3.8" fill="#3a3a3a" text-anchor="middle">10<tspan font-size="2.8" dy="-1.6">1</tspan></text>
<line x1="307.45" y1="295.5" x2="307.45" y2="297.3" stroke="#777" stroke-width="0.6"/>
<text x="308.75" y="302.80" font-size="3.8" fill="#3a3a3a" text-anchor="middle">10<tspan font-size="2.8" dy="-1.6">2</tspan></text>
<line x1="326.17" y1="295.5" x2="326.17" y2="297.3" stroke="#777" stroke-width="0.6"/>
<text x="327.17" y="302.80" font-size="3.8" fill="#3a3a3a" text-anchor="middle">10<tspan font-size="2.8" dy="-1.6">3</tspan></text>
<line x1="344.90" y1="295.5" x2="344.90" y2="297.3" stroke="#777" stroke-width="0.6"/>
<text x="345.20" y="302.80" font-size="3.8" fill="#3a3a3a" text-anchor="middle">10<tspan font-size="2.8" dy="-1.6">4</tspan></text>
<text x="307.45" y="313.80" font-size="3.7" fill="#3a3a3a" text-anchor="middle">FL1-H</text>
<text x="266.50" y="296.30" font-size="3.8" fill="#444" text-anchor="middle">0</text>
<text transform="translate(254.80,258.30) rotate(-90)" font-size="3.6" fill="#444" text-anchor="middle">Count</text>
<line x1="375.1" y1="295.5" x2="449.7" y2="295.5" stroke="#777" stroke-width="1"/>
<path d="M381.00,295.50 C381.37,294.02 382.47,290.13 383.20,286.65 C383.93,283.16 384.78,277.36 385.40,274.60 C386.02,271.84 386.28,272.33 386.90,270.10 C387.52,267.87 388.35,265.42 389.10,261.20 C389.85,256.98 390.65,249.02 391.40,244.80 C392.15,240.58 392.87,237.03 393.60,235.90 C394.33,234.77 394.93,238.50 395.80,238.00 C396.67,237.50 397.93,234.50 398.80,232.90 C399.67,231.30 400.38,228.65 401.00,228.40 C401.62,228.15 402.00,229.17 402.50,231.40 C403.00,233.63 403.50,237.83 404.00,241.80 C404.50,245.77 405.00,250.48 405.50,255.20 C406.00,259.92 406.38,265.38 407.00,270.10 C407.62,274.82 408.33,279.74 409.20,283.52 C410.07,287.30 411.33,290.80 412.20,292.79 C413.07,294.79 414.03,295.05 414.40,295.50" fill="none" stroke="#8a8a8a" stroke-width="0.9"/>
<line x1="374.40000000000003" y1="221.1" x2="450.4" y2="221.1" stroke="#b4b4b4" stroke-width="1.4"/>
<line x1="375.1" y1="220.4" x2="375.1" y2="297.0" stroke="#959595" stroke-width="1.5"/>
<line x1="449.7" y1="220.4" x2="449.7" y2="295.5" stroke="#8e8e8e" stroke-width="1.5"/>
<path d="M374.6,295.5 L383.20,295.50 C383.70,294.55 385.33,292.77 386.20,289.77 C387.07,286.77 387.67,282.51 388.40,277.50 C389.13,272.49 389.98,265.40 390.60,259.70 C391.22,254.00 391.63,247.68 392.10,243.30 C392.57,238.92 393.00,234.55 393.40,233.40 C393.80,232.25 393.93,236.63 394.50,236.40 C395.07,236.17 396.20,231.35 396.80,232.00 C397.40,232.65 397.63,237.17 398.10,240.30 C398.57,243.43 398.98,247.32 399.60,250.80 C400.22,254.28 401.27,258.97 401.80,261.20 C402.33,263.43 402.43,262.47 402.80,264.20 C403.17,265.93 403.42,268.38 404.00,271.60 C404.58,274.82 405.55,280.23 406.30,283.52 C407.05,286.81 407.63,289.34 408.50,291.33 C409.37,293.33 411.00,294.81 411.50,295.50 L450.0,295.5" fill="none" stroke="#000" stroke-width="1.6" stroke-linejoin="round"/>
<line x1="375.10" y1="295.5" x2="375.10" y2="297.3" stroke="#777" stroke-width="0.6"/>
<text x="380.10" y="302.80" font-size="3.8" fill="#3a3a3a" text-anchor="middle">10<tspan font-size="2.8" dy="-1.6">0</tspan></text>
<line x1="393.75" y1="295.5" x2="393.75" y2="297.3" stroke="#777" stroke-width="0.6"/>
<text x="395.25" y="302.80" font-size="3.8" fill="#3a3a3a" text-anchor="middle">10<tspan font-size="2.8" dy="-1.6">1</tspan></text>
<line x1="412.40" y1="295.5" x2="412.40" y2="297.3" stroke="#777" stroke-width="0.6"/>
<text x="413.70" y="302.80" font-size="3.8" fill="#3a3a3a" text-anchor="middle">10<tspan font-size="2.8" dy="-1.6">2</tspan></text>
<line x1="431.05" y1="295.5" x2="431.05" y2="297.3" stroke="#777" stroke-width="0.6"/>
<text x="432.05" y="302.80" font-size="3.8" fill="#3a3a3a" text-anchor="middle">10<tspan font-size="2.8" dy="-1.6">3</tspan></text>
<line x1="449.70" y1="295.5" x2="449.70" y2="297.3" stroke="#777" stroke-width="0.6"/>
<text x="450.00" y="302.80" font-size="3.8" fill="#3a3a3a" text-anchor="middle">10<tspan font-size="2.8" dy="-1.6">4</tspan></text>
<text x="412.40" y="313.80" font-size="3.7" fill="#3a3a3a" text-anchor="middle">FL1-H</text>
<text x="371.60" y="296.30" font-size="3.8" fill="#444" text-anchor="middle">0</text>
<text transform="translate(359.90,258.30) rotate(-90)" font-size="3.6" fill="#444" text-anchor="middle">Count</text>
<line x1="270.0" y1="391.8" x2="344.9" y2="391.8" stroke="#777" stroke-width="1"/>
<path d="M277.50,391.80 C277.98,390.57 279.55,387.81 280.40,384.43 C281.25,381.04 281.87,376.79 282.60,371.50 C283.33,366.21 284.10,359.07 284.80,352.70 C285.50,346.33 286.23,337.68 286.80,333.30 C287.37,328.92 287.78,327.47 288.20,326.40 C288.62,325.33 288.87,326.07 289.30,326.90 C289.73,327.73 290.30,328.92 290.80,331.40 C291.30,333.88 291.68,337.58 292.30,341.80 C292.92,346.02 293.63,351.48 294.50,356.70 C295.37,361.92 296.50,368.64 297.50,373.10 C298.50,377.56 299.63,380.87 300.50,383.44 C301.37,386.02 301.83,387.16 302.70,388.56 C303.57,389.95 305.20,391.26 305.70,391.80" fill="none" stroke="#8a8a8a" stroke-width="0.9"/>
<line x1="269.3" y1="317.6" x2="345.59999999999997" y2="317.6" stroke="#b4b4b4" stroke-width="1.4"/>
<line x1="270.0" y1="316.90000000000003" x2="270.0" y2="393.3" stroke="#959595" stroke-width="1.5"/>
<line x1="344.9" y1="316.90000000000003" x2="344.9" y2="391.8" stroke="#8e8e8e" stroke-width="1.5"/>
<path d="M269.5,391.8 L276.70,391.80 C277.20,390.73 278.83,388.46 279.70,385.41 C280.57,382.36 281.17,378.45 281.90,373.50 C282.63,368.55 283.40,361.90 284.10,355.70 C284.80,349.50 285.52,341.02 286.10,336.30 C286.68,331.58 287.18,329.13 287.60,327.40 C288.02,325.67 288.18,325.40 288.60,325.90 C289.02,326.40 289.60,327.92 290.10,330.40 C290.60,332.88 290.98,336.58 291.60,340.80 C292.22,345.02 292.93,350.48 293.80,355.70 C294.67,360.92 295.80,367.64 296.80,372.10 C297.80,376.56 298.93,379.88 299.80,382.46 C300.67,385.04 301.13,386.01 302.00,387.57 C302.87,389.13 304.50,391.10 305.00,391.80 L345.2,391.8" fill="none" stroke="#000" stroke-width="1.6" stroke-linejoin="round"/>
<polygon points="287.00,336.00 287.40,328.70 288.00,327.50 288.80,329.30 289.70,327.70 290.50,329.00 290.80,336.00 289.10,338.50" fill="#000"/>
<line x1="270.00" y1="391.8" x2="270.00" y2="393.6" stroke="#777" stroke-width="0.6"/>
<text x="275.00" y="399.10" font-size="3.8" fill="#3a3a3a" text-anchor="middle">10<tspan font-size="2.8" dy="-1.6">0</tspan></text>
<line x1="288.73" y1="391.8" x2="288.73" y2="393.6" stroke="#777" stroke-width="0.6"/>
<text x="290.23" y="399.10" font-size="3.8" fill="#3a3a3a" text-anchor="middle">10<tspan font-size="2.8" dy="-1.6">1</tspan></text>
<line x1="307.45" y1="391.8" x2="307.45" y2="393.6" stroke="#777" stroke-width="0.6"/>
<text x="308.75" y="399.10" font-size="3.8" fill="#3a3a3a" text-anchor="middle">10<tspan font-size="2.8" dy="-1.6">2</tspan></text>
<line x1="326.17" y1="391.8" x2="326.17" y2="393.6" stroke="#777" stroke-width="0.6"/>
<text x="327.17" y="399.10" font-size="3.8" fill="#3a3a3a" text-anchor="middle">10<tspan font-size="2.8" dy="-1.6">3</tspan></text>
<line x1="344.90" y1="391.8" x2="344.90" y2="393.6" stroke="#777" stroke-width="0.6"/>
<text x="345.20" y="399.10" font-size="3.8" fill="#3a3a3a" text-anchor="middle">10<tspan font-size="2.8" dy="-1.6">4</tspan></text>
<text x="307.45" y="410.10" font-size="3.7" fill="#3a3a3a" text-anchor="middle">FL1-H</text>
<text x="266.50" y="392.60" font-size="3.8" fill="#444" text-anchor="middle">0</text>
<text transform="translate(254.80,354.70) rotate(-90)" font-size="3.6" fill="#444" text-anchor="middle">Count</text>
<line x1="375.1" y1="391.8" x2="449.7" y2="391.8" stroke="#777" stroke-width="1"/>
<path d="M381.50,391.80 C381.78,390.98 382.67,388.93 383.20,386.88 C383.73,384.83 384.07,382.15 384.70,379.50 C385.33,376.85 386.28,374.75 387.00,371.00 C387.72,367.25 388.33,362.50 389.00,357.00 C389.67,351.50 390.42,342.50 391.00,338.00 C391.58,333.50 391.95,331.83 392.50,330.00 C393.05,328.17 393.72,327.00 394.30,327.00 C394.88,327.00 395.47,329.42 396.00,330.00 C396.53,330.58 397.00,329.17 397.50,330.50 C398.00,331.83 398.42,334.58 399.00,338.00 C399.58,341.42 400.25,346.67 401.00,351.00 C401.75,355.33 402.75,359.83 403.50,364.00 C404.25,368.17 404.83,372.68 405.50,376.00 C406.17,379.32 406.75,381.71 407.50,383.93 C408.25,386.16 409.08,388.03 410.00,389.34 C410.92,390.65 412.50,391.39 413.00,391.80" fill="none" stroke="#8a8a8a" stroke-width="0.9"/>
<line x1="374.40000000000003" y1="317.6" x2="450.4" y2="317.6" stroke="#b4b4b4" stroke-width="1.4"/>
<line x1="375.1" y1="316.90000000000003" x2="375.1" y2="393.3" stroke="#959595" stroke-width="1.5"/>
<line x1="449.7" y1="316.90000000000003" x2="449.7" y2="391.8" stroke="#8e8e8e" stroke-width="1.5"/>
<path d="M374.6,391.8 L378.00,391.80 C378.50,391.72 380.02,392.14 381.00,391.31 C381.98,390.47 383.03,389.25 383.90,386.78 C384.77,384.32 385.45,380.70 386.20,376.50 C386.95,372.30 387.68,366.18 388.40,361.60 C389.12,357.02 389.98,353.10 390.50,349.00 C391.02,344.90 391.12,340.27 391.50,337.00 C391.88,333.73 392.42,330.48 392.80,329.40 C393.18,328.32 393.52,331.08 393.80,330.50 C394.08,329.92 394.23,325.23 394.50,325.90 C394.77,326.57 394.97,334.07 395.40,334.50 C395.83,334.93 396.62,328.25 397.10,328.50 C397.58,328.75 397.93,333.92 398.30,336.00 C398.67,338.08 398.93,338.83 399.30,341.00 C399.67,343.17 400.03,346.30 400.50,349.00 C400.97,351.70 401.63,355.10 402.10,357.20 C402.57,359.30 402.85,359.37 403.30,361.60 C403.75,363.83 404.18,367.37 404.80,370.60 C405.42,373.83 406.27,378.15 407.00,380.98 C407.73,383.81 408.33,385.77 409.20,387.57 C410.07,389.37 411.70,391.10 412.20,391.80 L450.0,391.8" fill="none" stroke="#000" stroke-width="1.6" stroke-linejoin="round"/>
<line x1="375.10" y1="391.8" x2="375.10" y2="393.6" stroke="#777" stroke-width="0.6"/>
<text x="380.10" y="399.10" font-size="3.8" fill="#3a3a3a" text-anchor="middle">10<tspan font-size="2.8" dy="-1.6">0</tspan></text>
<line x1="393.75" y1="391.8" x2="393.75" y2="393.6" stroke="#777" stroke-width="0.6"/>
<text x="395.25" y="399.10" font-size="3.8" fill="#3a3a3a" text-anchor="middle">10<tspan font-size="2.8" dy="-1.6">1</tspan></text>
<line x1="412.40" y1="391.8" x2="412.40" y2="393.6" stroke="#777" stroke-width="0.6"/>
<text x="413.70" y="399.10" font-size="3.8" fill="#3a3a3a" text-anchor="middle">10<tspan font-size="2.8" dy="-1.6">2</tspan></text>
<line x1="431.05" y1="391.8" x2="431.05" y2="393.6" stroke="#777" stroke-width="0.6"/>
<text x="432.05" y="399.10" font-size="3.8" fill="#3a3a3a" text-anchor="middle">10<tspan font-size="2.8" dy="-1.6">3</tspan></text>
<line x1="449.70" y1="391.8" x2="449.70" y2="393.6" stroke="#777" stroke-width="0.6"/>
<text x="450.00" y="399.10" font-size="3.8" fill="#3a3a3a" text-anchor="middle">10<tspan font-size="2.8" dy="-1.6">4</tspan></text>
<text x="412.40" y="410.10" font-size="3.7" fill="#3a3a3a" text-anchor="middle">FL1-H</text>
<text x="371.60" y="392.60" font-size="3.8" fill="#444" text-anchor="middle">0</text>
<text transform="translate(359.90,354.70) rotate(-90)" font-size="3.6" fill="#444" text-anchor="middle">Count</text>
<line x1="270.0" y1="489.5" x2="344.9" y2="489.5" stroke="#777" stroke-width="1"/>
<path d="M281.90,489.50 C282.65,488.58 284.92,485.67 286.40,484.00 C287.88,482.33 289.57,481.25 290.80,479.50 C292.03,477.75 292.93,476.98 293.80,473.50 C294.67,470.02 295.38,463.55 296.00,458.60 C296.62,453.65 297.00,448.75 297.50,443.80 C298.00,438.85 298.50,432.25 299.00,428.90 C299.50,425.55 300.00,423.45 300.50,423.70 C301.00,423.95 301.50,427.05 302.00,430.40 C302.50,433.75 303.00,439.10 303.50,443.80 C304.00,448.50 304.38,453.15 305.00,458.60 C305.62,464.05 306.47,472.03 307.20,476.50 C307.93,480.97 308.78,483.23 309.40,485.40 C310.02,487.57 310.65,488.82 310.90,489.50" fill="none" stroke="#8a8a8a" stroke-width="0.9"/>
<line x1="269.3" y1="415.0" x2="345.59999999999997" y2="415.0" stroke="#b4b4b4" stroke-width="1.4"/>
<line x1="270.0" y1="414.3" x2="270.0" y2="491.0" stroke="#959595" stroke-width="1.5"/>
<line x1="344.9" y1="414.3" x2="344.9" y2="489.5" stroke="#8e8e8e" stroke-width="1.5"/>
<path d="M269.5,489.5 L277.40,489.50 C277.90,488.33 279.53,485.67 280.40,482.50 C281.27,479.33 281.85,475.72 282.60,470.50 C283.35,465.28 284.22,457.40 284.90,451.20 C285.58,445.00 286.20,437.40 286.70,433.30 C287.20,429.20 287.47,427.83 287.90,426.60 C288.33,425.37 288.82,424.78 289.30,425.90 C289.78,427.02 290.30,430.32 290.80,433.30 C291.30,436.28 291.67,439.82 292.30,443.80 C292.93,447.78 293.73,452.75 294.60,457.20 C295.47,461.65 296.52,466.53 297.50,470.50 C298.48,474.47 299.50,478.38 300.50,481.00 C301.50,483.62 302.63,484.78 303.50,486.20 C304.37,487.62 305.33,488.95 305.70,489.50 L345.2,489.5" fill="none" stroke="#000" stroke-width="1.6" stroke-linejoin="round"/>
<polygon points="286.85,433.40 287.25,426.40 287.90,425.20 288.70,427.00 289.60,425.40 290.45,426.70 290.75,433.40 289.00,435.90" fill="#000"/>
<line x1="270.00" y1="489.5" x2="270.00" y2="491.3" stroke="#777" stroke-width="0.6"/>
<text x="275.00" y="496.80" font-size="3.8" fill="#3a3a3a" text-anchor="middle">10<tspan font-size="2.8" dy="-1.6">0</tspan></text>
<line x1="288.73" y1="489.5" x2="288.73" y2="491.3" stroke="#777" stroke-width="0.6"/>
<text x="290.23" y="496.80" font-size="3.8" fill="#3a3a3a" text-anchor="middle">10<tspan font-size="2.8" dy="-1.6">1</tspan></text>
<line x1="307.45" y1="489.5" x2="307.45" y2="491.3" stroke="#777" stroke-width="0.6"/>
<text x="308.75" y="496.80" font-size="3.8" fill="#3a3a3a" text-anchor="middle">10<tspan font-size="2.8" dy="-1.6">2</tspan></text>
<line x1="326.17" y1="489.5" x2="326.17" y2="491.3" stroke="#777" stroke-width="0.6"/>
<text x="327.17" y="496.80" font-size="3.8" fill="#3a3a3a" text-anchor="middle">10<tspan font-size="2.8" dy="-1.6">3</tspan></text>
<line x1="344.90" y1="489.5" x2="344.90" y2="491.3" stroke="#777" stroke-width="0.6"/>
<text x="345.20" y="496.80" font-size="3.8" fill="#3a3a3a" text-anchor="middle">10<tspan font-size="2.8" dy="-1.6">4</tspan></text>
<text x="307.45" y="507.80" font-size="3.7" fill="#3a3a3a" text-anchor="middle">FL1-H</text>
<text x="266.50" y="490.30" font-size="3.8" fill="#444" text-anchor="middle">0</text>
<text transform="translate(254.80,452.25) rotate(-90)" font-size="3.6" fill="#444" text-anchor="middle">Count</text>
<line x1="375.1" y1="489.5" x2="449.7" y2="489.5" stroke="#777" stroke-width="1"/>
<path d="M382.40,489.50 C382.78,487.33 383.95,480.40 384.70,476.50 C385.45,472.60 386.28,468.33 386.90,466.10 C387.52,463.87 387.90,463.35 388.40,463.10 C388.90,462.85 389.23,464.03 389.90,464.60 C390.57,465.17 391.60,465.60 392.40,466.50 C393.20,467.40 393.83,469.82 394.70,470.00 C395.57,470.18 396.82,468.97 397.60,467.60 C398.38,466.23 398.80,463.37 399.40,461.80 C400.00,460.23 400.80,460.57 401.20,458.20 C401.60,455.83 401.52,451.13 401.80,447.60 C402.08,444.07 402.42,440.10 402.90,437.00 C403.38,433.90 404.22,430.83 404.70,429.00 C405.18,427.17 405.37,426.00 405.80,426.00 C406.23,426.00 406.83,426.67 407.30,429.00 C407.77,431.33 408.15,435.92 408.60,440.00 C409.05,444.08 409.47,448.70 410.00,453.50 C410.53,458.30 411.22,464.48 411.80,468.80 C412.38,473.12 412.92,476.45 413.50,479.40 C414.08,482.35 414.72,484.82 415.30,486.50 C415.88,488.18 416.72,489.00 417.00,489.50" fill="none" stroke="#8a8a8a" stroke-width="0.9"/>
<line x1="374.40000000000003" y1="415.0" x2="450.4" y2="415.0" stroke="#b4b4b4" stroke-width="1.4"/>
<line x1="375.1" y1="414.3" x2="375.1" y2="491.0" stroke="#959595" stroke-width="1.5"/>
<line x1="449.7" y1="414.3" x2="449.7" y2="489.5" stroke="#8e8e8e" stroke-width="1.5"/>
<path d="M374.6,489.5 L381.00,489.50 C381.48,488.58 382.92,486.67 383.90,484.00 C384.88,481.33 386.03,477.73 386.90,473.50 C387.77,469.27 388.50,463.18 389.10,458.60 C389.70,454.02 389.98,450.43 390.50,446.00 C391.02,441.57 391.72,435.10 392.20,432.00 C392.68,428.90 393.02,427.55 393.40,427.40 C393.78,427.25 393.93,431.30 394.50,431.10 C395.07,430.90 396.28,426.38 396.80,426.20 C397.32,426.02 397.17,427.40 397.60,430.00 C398.03,432.60 398.80,438.27 399.40,441.80 C400.00,445.33 400.80,448.75 401.20,451.20 C401.60,453.65 401.52,455.13 401.80,456.50 C402.08,457.87 402.52,457.55 402.90,459.40 C403.28,461.25 403.60,464.65 404.10,467.60 C404.60,470.55 405.32,474.53 405.90,477.10 C406.48,479.67 406.82,481.15 407.60,483.00 C408.38,484.85 409.62,487.12 410.60,488.20 C411.58,489.28 413.02,489.28 413.50,489.50 L450.0,489.5" fill="none" stroke="#000" stroke-width="1.6" stroke-linejoin="round"/>
<line x1="375.10" y1="489.5" x2="375.10" y2="491.3" stroke="#777" stroke-width="0.6"/>
<text x="380.10" y="496.80" font-size="3.8" fill="#3a3a3a" text-anchor="middle">10<tspan font-size="2.8" dy="-1.6">0</tspan></text>
<line x1="393.75" y1="489.5" x2="393.75" y2="491.3" stroke="#777" stroke-width="0.6"/>
<text x="395.25" y="496.80" font-size="3.8" fill="#3a3a3a" text-anchor="middle">10<tspan font-size="2.8" dy="-1.6">1</tspan></text>
<line x1="412.40" y1="489.5" x2="412.40" y2="491.3" stroke="#777" stroke-width="0.6"/>
<text x="413.70" y="496.80" font-size="3.8" fill="#3a3a3a" text-anchor="middle">10<tspan font-size="2.8" dy="-1.6">2</tspan></text>
<line x1="431.05" y1="489.5" x2="431.05" y2="491.3" stroke="#777" stroke-width="0.6"/>
<text x="432.05" y="496.80" font-size="3.8" fill="#3a3a3a" text-anchor="middle">10<tspan font-size="2.8" dy="-1.6">3</tspan></text>
<line x1="449.70" y1="489.5" x2="449.70" y2="491.3" stroke="#777" stroke-width="0.6"/>
<text x="450.00" y="496.80" font-size="3.8" fill="#3a3a3a" text-anchor="middle">10<tspan font-size="2.8" dy="-1.6">4</tspan></text>
<text x="412.40" y="507.80" font-size="3.7" fill="#3a3a3a" text-anchor="middle">FL1-H</text>
<text x="371.60" y="490.30" font-size="3.8" fill="#444" text-anchor="middle">0</text>
<text transform="translate(359.90,452.25) rotate(-90)" font-size="3.6" fill="#444" text-anchor="middle">Count</text>
<text transform="translate(307.3,11.8) scale(1,1.07)" font-size="13.7" text-anchor="middle">CysLTR1</text>
<text transform="translate(409.1,11.8) scale(1,1.07)" font-size="13.7" text-anchor="middle">CysLTR2</text>
<text transform="translate(497.8,63.1) scale(1,1.08)" font-size="13.5" text-anchor="middle">DC</text>
<text transform="translate(497.8,79.2) scale(1,1.08)" font-size="13.5" text-anchor="middle">Imm</text>
<text transform="translate(497.8,154.6) scale(1,1.08)" font-size="13.5" text-anchor="middle">DC</text>
<text transform="translate(497.8,170.4) scale(1,1.08)" font-size="13.5" text-anchor="middle">CC</text>
<text transform="translate(497.8,254.6) scale(1,1.08)" font-size="13.5" text-anchor="middle">DC</text>
<text transform="translate(497.8,271) scale(1,1.08)" font-size="13.5" text-anchor="middle">CD40L</text>
<text transform="translate(497.8,348.9) scale(1,1.08)" font-size="13.5" text-anchor="middle">DC</text>
<text transform="translate(497.8,365) scale(1,1.08)" font-size="13.5" text-anchor="middle">pIC</text>
<text transform="translate(497.8,443.7) scale(1,1.08)" font-size="13.5" text-anchor="middle">DC</text>
<text transform="translate(497.8,459.5) scale(1,1.08)" font-size="13.5" text-anchor="middle">LPS</text>
</svg>
</body></html>
